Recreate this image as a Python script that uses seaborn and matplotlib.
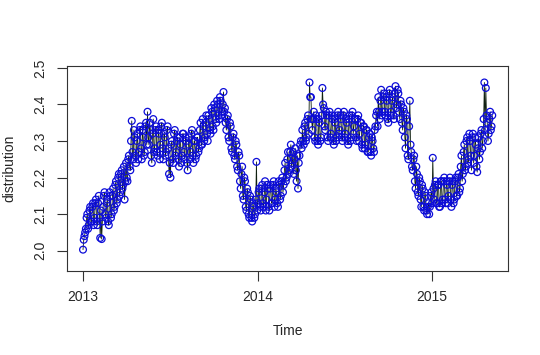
import matplotlib
matplotlib.use("Agg")
import matplotlib.pyplot as plt
import seaborn as sns
import pandas as pd

# values, one every 3 days from 2013-01-01
values = [
    2.003, 2.04, 2.06, 2.10, 2.07, 2.12, 2.08, 2.13, 2.09, 2.14,
    2.07, 2.15, 2.035, 2.032, 2.12, 2.16, 2.09, 2.14, 2.07, 2.15,
    2.10, 2.17, 2.12, 2.19, 2.14, 2.21, 2.16, 2.22, 2.18, 2.14,
    2.24, 2.19, 2.26, 2.22, 2.355, 2.25, 2.31, 2.24, 2.32, 2.27,
    2.34, 2.25, 2.31, 2.27, 2.35, 2.38, 2.29, 2.33, 2.24, 2.36,
    2.28, 2.34, 2.26, 2.32, 2.29, 2.35, 2.25, 2.31, 2.27, 2.34,
    2.21, 2.20, 2.30, 2.24, 2.33, 2.27, 2.31, 2.23, 2.29, 2.26,
    2.32, 2.25, 2.30, 2.22, 2.31, 2.27, 2.33, 2.24, 2.30, 2.26,
    2.31, 2.28, 2.35, 2.29, 2.34, 2.31, 2.37, 2.30, 2.36, 2.32,
    2.38, 2.33, 2.39, 2.35, 2.40, 2.36, 2.41, 2.38, 2.434, 2.39,
    2.33, 2.37, 2.30, 2.34, 2.27, 2.32, 2.25, 2.29, 2.22, 2.26,
    2.17, 2.23, 2.14, 2.19, 2.11, 2.16, 2.09, 2.14, 2.08, 2.12,
    2.10, 2.243, 2.13, 2.17, 2.11, 2.18, 2.12, 2.19, 2.14, 2.17,
    2.11, 2.18, 2.13, 2.19, 2.14, 2.16, 2.12, 2.18, 2.15, 2.20,
    2.18, 2.24, 2.20, 2.27, 2.22, 2.29, 2.24, 2.21, 2.28, 2.19,
    2.17, 2.26, 2.30, 2.33, 2.29, 2.35, 2.31, 2.37, 2.46, 2.42,
    2.33, 2.38, 2.30, 2.36, 2.29, 2.35, 2.31, 2.445, 2.39, 2.33,
    2.37, 2.30, 2.38, 2.32, 2.36, 2.29, 2.35, 2.31, 2.38, 2.33,
    2.36, 2.30, 2.38, 2.32, 2.35, 2.29, 2.37, 2.31, 2.38, 2.34,
    2.36, 2.30, 2.37, 2.32, 2.35, 2.28, 2.34, 2.29, 2.33, 2.27,
    2.32, 2.26, 2.30, 2.27, 2.34, 2.38, 2.42, 2.36, 2.44, 2.38,
    2.43, 2.37, 2.41, 2.35, 2.44, 2.38, 2.42, 2.36, 2.45, 2.40,
    2.43, 2.36, 2.40, 2.33, 2.38, 2.28, 2.36, 2.25, 2.41, 2.27,
    2.22, 2.26, 2.17, 2.21, 2.15, 2.19, 2.12, 2.17, 2.11, 2.15,
    2.10, 2.13, 2.12, 2.16, 2.254, 2.14, 2.19, 2.13, 2.18, 2.12,
    2.19, 2.14, 2.20, 2.13, 2.18, 2.15, 2.20, 2.12, 2.19, 2.14,
    2.20, 2.15, 2.21, 2.17, 2.26, 2.21, 2.29, 2.23, 2.31, 2.25,
    2.30, 2.22, 2.32, 2.26, 2.29, 2.215, 2.31, 2.27, 2.33, 2.30,
    2.46, 2.445, 2.35, 2.32, 2.38, 2.34,
]
# in-between readings, 1.5 days after each of the above
values_mid = [
    2.03, 2.05, 2.09, 2.06, 2.11, 2.08, 2.12, 2.07, 2.13, 2.08,
    2.13, 2.09, 2.11, 2.08, 2.15, 2.10, 2.13, 2.08, 2.16, 2.09,
    2.15, 2.11, 2.18, 2.13, 2.20, 2.15, 2.21, 2.17, 2.23, 2.19,
    2.20, 2.25, 2.23, 2.30, 2.27, 2.33, 2.26, 2.30, 2.25, 2.33,
    2.28, 2.33, 2.26, 2.34, 2.29, 2.31, 2.35, 2.26, 2.32, 2.27,
    2.33, 2.27, 2.33, 2.25, 2.34, 2.28, 2.32, 2.26, 2.33, 2.28,
    2.24, 2.29, 2.25, 2.32, 2.26, 2.30, 2.25, 2.31, 2.24, 2.32,
    2.27, 2.31, 2.24, 2.29, 2.25, 2.32, 2.26, 2.30, 2.25, 2.31,
    2.27, 2.33, 2.29, 2.36, 2.30, 2.35, 2.32, 2.37, 2.33, 2.39,
    2.34, 2.40, 2.36, 2.41, 2.37, 2.42, 2.37, 2.40, 2.38, 2.35,
    2.36, 2.31, 2.35, 2.28, 2.31, 2.26, 2.30, 2.23, 2.27, 2.19,
    2.21, 2.15, 2.20, 2.12, 2.17, 2.10, 2.15, 2.09, 2.13, 2.09,
    2.14, 2.11, 2.16, 2.12, 2.17, 2.13, 2.16, 2.11, 2.18, 2.12,
    2.17, 2.13, 2.18, 2.12, 2.17, 2.13, 2.19, 2.14, 2.19, 2.16,
    2.22, 2.19, 2.25, 2.21, 2.27, 2.23, 2.27, 2.25, 2.22, 2.26,
    2.24, 2.29, 2.28, 2.30, 2.34, 2.30, 2.36, 2.32, 2.42, 2.36,
    2.36, 2.31, 2.37, 2.30, 2.36, 2.30, 2.37, 2.40, 2.34, 2.38,
    2.31, 2.37, 2.31, 2.37, 2.30, 2.36, 2.30, 2.37, 2.32, 2.37,
    2.31, 2.37, 2.31, 2.36, 2.30, 2.36, 2.30, 2.37, 2.32, 2.36,
    2.31, 2.36, 2.30, 2.35, 2.29, 2.34, 2.28, 2.33, 2.27, 2.31,
    2.27, 2.31, 2.28, 2.33, 2.37, 2.34, 2.38, 2.41, 2.37, 2.42,
    2.38, 2.42, 2.36, 2.43, 2.37, 2.41, 2.37, 2.43, 2.39, 2.44,
    2.38, 2.41, 2.35, 2.39, 2.31, 2.37, 2.26, 2.34, 2.29, 2.23,
    2.25, 2.19, 2.23, 2.16, 2.20, 2.14, 2.18, 2.12, 2.16, 2.11,
    2.12, 2.10, 2.15, 2.13, 2.17, 2.18, 2.13, 2.18, 2.12, 2.19,
    2.13, 2.19, 2.14, 2.19, 2.13, 2.19, 2.14, 2.18, 2.13, 2.19,
    2.15, 2.20, 2.16, 2.23, 2.19, 2.27, 2.22, 2.30, 2.24, 2.32,
    2.26, 2.31, 2.24, 2.31, 2.23, 2.28, 2.25, 2.32, 2.28, 2.36,
    2.33, 2.37, 2.30, 2.36, 2.33, 2.37,
]
year_ticks = [2013, 2014, 2015]
y_ticks = [2.0, 2.1, 2.2, 2.3, 2.4, 2.5]

start = pd.Timestamp("2013-01-01")
dates = pd.date_range(start, periods=len(values), freq="3D")
dates_mid = dates + pd.Timedelta(hours=36)
df = pd.DataFrame({
    "date": list(dates) + list(dates_mid),
    "distribution": values + values_mid,
}).sort_values("date")
df["Time"] = 2013 + (df["date"] - start).dt.total_seconds() / (365.25 * 86400)

sns.set_style("white")
plt.rcParams["font.family"] = ["Liberation Sans", "DejaVu Sans"]

fig = plt.figure(figsize=(5.4, 3.55), dpi=100)
ax = fig.add_axes([0.124, 0.237, 0.817, 0.577])

sns.lineplot(data=df, x="Time", y="distribution", ax=ax, color="#102010",
             linewidth=0.6, zorder=2, sort=False)
sns.scatterplot(data=df, x="Time", y="distribution", ax=ax, marker="o",
                s=24, facecolor="none", edgecolor="#0c0cd8", linewidth=0.9,
                zorder=3)

ax.set_xlim(2012.908, 2015.436)
ax.set_ylim(1.945, 2.505)
ax.set_xticks(year_ticks)
ax.set_xticklabels([str(y) for y in year_ticks])
ax.set_yticks(y_ticks)
ax.set_yticklabels([f"{v:.1f}" for v in y_ticks], rotation=90, va="center")
ax.tick_params(axis="both", direction="out", length=7, width=0.8,
               color="#333333", labelsize=10, pad=7, left=True, bottom=True)
for sp in ax.spines.values():
    sp.set_color("#333333")
    sp.set_linewidth(0.8)
ax.set_xlabel("Time", fontsize=10, labelpad=14)
ax.set_ylabel("distribution", fontsize=10, labelpad=12)

fig.savefig("out.png", dpi=100)
